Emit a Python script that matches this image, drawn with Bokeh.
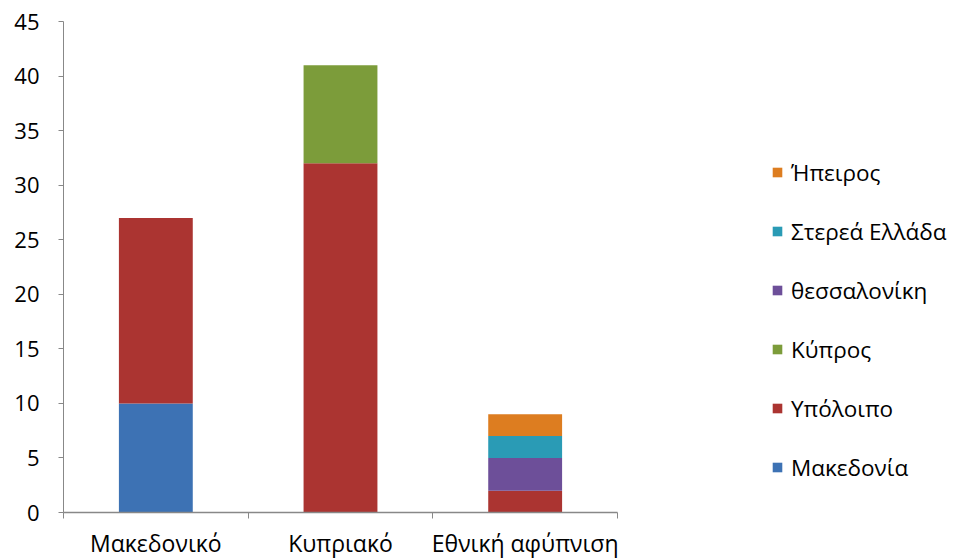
from bokeh.plotting import figure
from bokeh.models import Range1d, FixedTicker, Legend, LegendItem, ColumnDataSource
from bokeh.embed import file_html
from bokeh.resources import INLINE

categories = ["Μακεδονικό", "Κυπριακό", "Εθνική αφύπνιση"]
series = ["Μακεδονία", "Υπόλοιπο", "Κύπρος", "θεσσαλονίκη", "Στερεά Ελλάδα", "Ήπειρος"]
makedonia = [10, 0, 0]
ypoloipo = [17, 32, 2]
kypros = [0, 9, 0]
thessaloniki = [0, 0, 3]
sterea = [0, 0, 2]
ipeiros = [0, 0, 2]
colors = ["#3d72b4", "#ab3431", "#7c9c3a", "#6d4f99", "#2a9bb5", "#dd7d20"]
y_ticks = [0, 5, 10, 15, 20, 25, 30, 35, 40, 45]

FONT = "Open Sans"

n = len(categories)
xpos = [i + 0.5 for i in range(n)]
data = dict(x=xpos)
vals = [makedonia, ypoloipo, kypros, thessaloniki, sterea, ipeiros]
for name, v in zip(series, vals):
    data[name] = v
src = ColumnDataSource(data)

LEFT = 63
FRAME_W = 888
CAT_PX = 554.0
x_end = n * FRAME_W / CAT_PX

p = figure(width=LEFT + FRAME_W, height=558, output_backend="svg", toolbar_location=None,
           x_range=Range1d(0, x_end), y_range=Range1d(0, 45),
           frame_width=FRAME_W, frame_height=491,
           min_border_left=LEFT, min_border_top=21, min_border_bottom=46, min_border_right=0)
p.outline_line_color = None
p.xgrid.grid_line_color = None
p.ygrid.grid_line_color = None

renderers = p.vbar_stack(series, x="x", width=0.4, source=src,
                         fill_color=colors, line_color=None)

items = [LegendItem(label=s, renderers=[r]) for s, r in zip(series, renderers)]
items = items[::-1]
legend = Legend(items=items, location=(708, 29), orientation="vertical",
                border_line_color=None, background_fill_alpha=0,
                label_text_font=FONT, label_text_font_size="22.5px",
                label_text_color="#000000",
                glyph_width=12, glyph_height=12, label_height=32, spacing=27,
                padding=0, margin=0, label_standoff=8)
p.add_layout(legend, "center")

# y axis
p.yaxis.ticker = FixedTicker(ticks=y_ticks)
p.yaxis.axis_line_color = "#888888"
p.yaxis.major_tick_line_color = "#888888"
p.yaxis.major_tick_out = 5
p.yaxis.major_tick_in = 0
p.yaxis.minor_tick_line_color = None
p.yaxis.major_label_standoff = 19
p.yaxis.major_label_text_font = FONT
p.yaxis.major_label_text_font_size = "22px"
p.yaxis.major_label_text_color = "#000000"

# x axis
p.xaxis.bounds = (0, n)
p.xaxis.ticker = FixedTicker(ticks=xpos, minor_ticks=[float(i) for i in range(n + 1)])
p.xaxis.major_label_overrides = {x: c for x, c in zip(xpos, categories)}
p.xaxis.axis_line_color = "#888888"
p.xaxis.axis_line_width = 1.5
p.xaxis.major_tick_line_color = None
p.xaxis.minor_tick_line_color = "#888888"
p.xaxis.minor_tick_out = 6
p.xaxis.minor_tick_in = 0
p.xaxis.major_label_standoff = 8
p.xaxis.major_label_text_font = FONT
p.xaxis.major_label_text_font_size = "23px"
p.xaxis.major_label_text_color = "#000000"

open("out.html", "w").write(file_html(p, INLINE))
